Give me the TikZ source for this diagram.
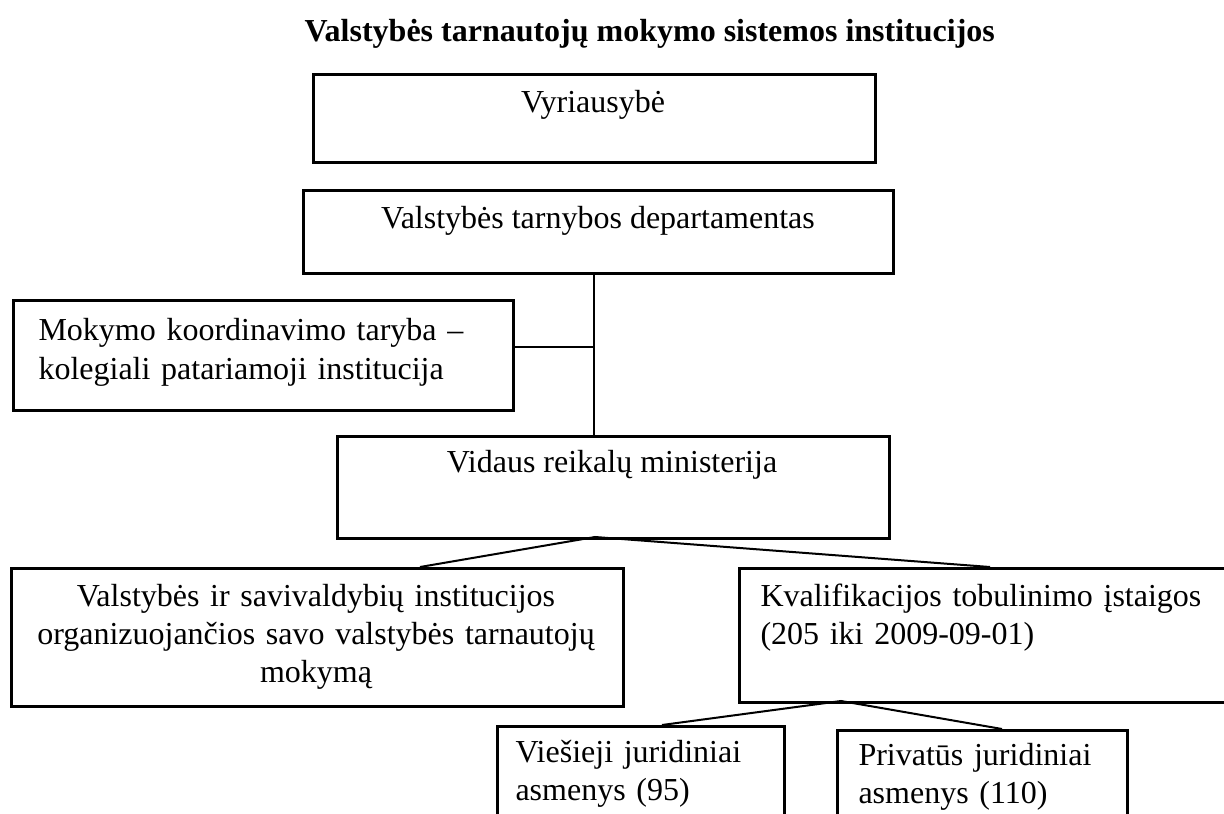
\documentclass[tikz,border=0pt]{standalone}
\usepackage{fontspec}
\setmainfont{Liberation Serif}
\usetikzlibrary{positioning, calc}
\newdimen\pxu \pxu=0.375pt

\begin{document}
\begin{tikzpicture}[
    x = 0.375pt, y = -0.375pt,
    font        = \fontsize{12pt}{14.4pt}\selectfont,
    tbox/.style = {draw, line width=1pt, anchor=north west, inner sep=0pt},
    ctext/.style= {anchor=base, align=center, inner sep=0pt},
    ltext/.style= {anchor=base west, align=left, inner sep=0pt},
    conn/.style = {line width=0.75pt},
  ]
  \useasboundingbox (0,0) rectangle (1224,814);
  \clip (0,0) rectangle (1224,814);

  \node[anchor=base west, inner sep=0pt, font=\fontsize{12pt}{14.4pt}\selectfont\bfseries]
    (title) at (304,42) {Valstybės tarnautojų mokymo sistemos institucijos};

  % boxes
  \node[tbox, minimum width=562*\pxu, minimum height=88*\pxu]  (vyr)  at (312,73)  {};
  \node[tbox, minimum width=590*\pxu, minimum height=83*\pxu]  (dep)  at (302,189) {};
  \node[tbox, minimum width=500*\pxu, minimum height=110*\pxu] (mok)  at (12,299)  {};
  \node[tbox, minimum width=552*\pxu, minimum height=102*\pxu] (vid)  at (336,435) {};
  \node[tbox, minimum width=612*\pxu, minimum height=138*\pxu] (vsav) at (10,567)  {};
  \node[tbox, minimum width=492*\pxu, minimum height=134*\pxu] (kval) at (738,567) {};
  \node[tbox, minimum width=287*\pxu, minimum height=130*\pxu] (vies) at (496,725) {};
  \node[tbox, minimum width=290*\pxu, minimum height=130*\pxu] (priv) at (836,729) {};

  % texts
  \node[ctext] (vyrT) at (593,113) {Vyriausybė};
  \node[ctext] (depT) at (598,228) {Valstybės tarnybos departamentas};
  \node[ltext, text width=470*\pxu, font=\fontsize{12pt}{15pt}\selectfont] (mokT) at (38,340)
    {Mokymo koordinavimo taryba –\\kolegiali patariamoji institucija};
  \node[ctext] (vidT) at (612,472) {Vidaus reikalų ministerija};
  \node[ctext, text width=590*\pxu] (vsavT) at (316,606)
    {Valstybės ir savivaldybių institucijos\\organizuojančios savo valstybės tarnautojų\\mokymą};
  \node[ltext, text width=460*\pxu] (kvalT) at (760,606)
    {Kvalifikacijos tobulinimo įstaigos\\(205 iki 2009-09-01)};
  \node[ltext, text width=260*\pxu] (viesT) at (515,762)
    {Viešieji juridiniai\\asmenys (95)};
  \node[ltext, text width=260*\pxu] (privT) at (858,765)
    {Privatūs juridiniai\\asmenys (110)};

  % connectors
  \coordinate (spine) at (594,272);
  \coordinate (mokJ)  at (512,347);
  \coordinate (vidB)  at (595,537);
  \coordinate (vsavJ) at (420,567);
  \coordinate (kvalJ) at (990,567);
  \coordinate (kvalB) at (841,701);
  \coordinate (viesJ) at (662,725);
  \coordinate (privJ) at (1002,729);
  \draw[conn] (spine) -- (spine |- vid.north);
  \draw[conn] (mokJ) -- (mokJ -| spine);
  \draw[conn] (vsavJ) -- (vidB) -- (kvalJ);
  \draw[conn] (viesJ) -- (kvalB) -- (privJ);
\end{tikzpicture}
\end{document}
